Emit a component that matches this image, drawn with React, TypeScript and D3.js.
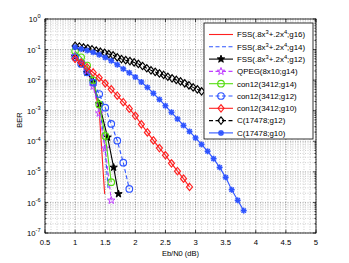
import React from "react";
import * as d3 from "d3";

// ---- data (Eb/N0 in dB, BER) ----
const fss16X = [1.0, 1.1, 1.2, 1.3, 1.4, 1.49];
const fss16Y = [0.063, 0.038, 0.018, 0.0079, 0.001, 1.9e-6];

const fss14X = [1.0, 1.1, 1.2, 1.3, 1.4, 1.5, 1.55];
const fss14Y = [0.071, 0.042, 0.021, 0.0079, 0.0018, 5.0e-5, 2.5e-6];

const fss12X = [1.0, 1.1, 1.2, 1.3, 1.4, 1.54, 1.64, 1.72];
const fss12Y = [0.059, 0.035, 0.0174, 0.0091, 0.00166, 1.35e-4, 1.4e-5, 1.9e-6];

const qpegX = [1.0, 1.1, 1.2, 1.3, 1.4, 1.5, 1.6];
const qpegY = [0.063, 0.04, 0.02, 0.0063, 8.3e-4, 5.9e-5, 1.17e-6];

const con14X = [1.0, 1.1, 1.2, 1.3, 1.4, 1.5, 1.6];
const con14Y = [0.089, 0.056, 0.03, 0.01, 0.0016, 1.5e-4, 4.6e-6];

const con12X = [1.0, 1.1, 1.2, 1.3, 1.4, 1.5, 1.6, 1.7, 1.8, 1.9];
const con12Y = [0.056, 0.034, 0.018, 0.0083, 0.0035, 0.00126, 3.7e-4, 1.05e-4, 2.0e-5, 2.75e-6];

const con10X = [1.0, 1.1, 1.2, 1.3, 1.4, 1.5, 1.6, 1.7, 1.8, 1.9, 2.0, 2.1, 2.2, 2.3, 2.4, 2.5, 2.6, 2.7, 2.8, 2.9];
const con10Y = [0.05, 0.037, 0.026, 0.0178, 0.012, 0.0079, 0.005, 0.0031, 0.0019, 0.00117, 6.8e-4, 3.6e-4, 1.95e-4, 1.07e-4, 6.0e-5, 3.5e-5, 1.9e-5, 1.05e-5, 6.0e-6, 3.2e-6];

const c12X = [1.0, 1.07, 1.14, 1.21, 1.28, 1.35, 1.42, 1.49, 1.56, 1.63, 1.7, 1.77, 1.84, 1.91, 1.98, 2.05, 2.12, 2.19, 2.26, 2.33, 2.4, 2.47, 2.54, 2.61, 2.68, 2.75, 2.82, 2.89, 2.96, 3.03, 3.1];
const c12Y = [0.132, 0.126, 0.117, 0.11, 0.102, 0.093, 0.085, 0.078, 0.071, 0.065, 0.056, 0.049, 0.045, 0.042, 0.038, 0.034, 0.029, 0.0245, 0.021, 0.0186, 0.0166, 0.0148, 0.0129, 0.0115, 0.0102, 0.0091, 0.0079, 0.0068, 0.0058, 0.005, 0.0043];

const c10X = [1.0, 1.1, 1.2, 1.3, 1.4, 1.5, 1.6, 1.7, 1.8, 1.9, 2.0, 2.1, 2.2, 2.3, 2.4, 2.5, 2.6, 2.7, 2.8, 2.9, 3.0, 3.1, 3.2, 3.3, 3.4, 3.5, 3.6, 3.7, 3.8];
const c10Y = [0.12, 0.105, 0.093, 0.081, 0.068, 0.055, 0.043, 0.032, 0.0234, 0.0174, 0.0126, 0.0087, 0.0058, 0.0037, 0.00234, 0.00145, 8.9e-4, 5.4e-4, 3.3e-4, 2.1e-4, 1.29e-4, 7.9e-5, 4.7e-5, 2.7e-5, 1.4e-5, 6.6e-6, 2.6e-6, 1.17e-6, 5.4e-7];

const xTicks = [0.5, 1, 1.5, 2, 2.5, 3, 3.5, 4, 4.5, 5];
const yExps = [0, -1, -2, -3, -4, -5, -6, -7];

type Marker = "none" | "circle" | "diamond" | "pent" | "aster";
interface Series {
  name: React.ReactNode;
  xs: number[];
  ys: number[];
  color: string;
  dash: string | null;
  marker: Marker;
  fill: boolean;
}

const RED = "#ff2020";
const BLUE = "#2f55ff";
const BLACK = "#000000";
const MAG = "#c040ff";
const GREEN = "#55dd11";

const sup = (s: string) => (
  <tspan baselineShift="super" fontSize="5.8">{s}</tspan>
);

const series: Series[] = [
  { name: <>FSS(.8x{sup("3")}+.2x{sup("4")};g16)</>, xs: fss16X, ys: fss16Y, color: RED, dash: null, marker: "none", fill: false },
  { name: <>FSS(.8x{sup("3")}+.2x{sup("4")};g14)</>, xs: fss14X, ys: fss14Y, color: BLUE, dash: "4,2.5", marker: "none", fill: false },
  { name: <>FSS(.8x{sup("3")}+.2x{sup("4")};g12)</>, xs: fss12X, ys: fss12Y, color: BLACK, dash: null, marker: "pent", fill: true },
  { name: "QPEG(8x10;g14)", xs: qpegX, ys: qpegY, color: MAG, dash: "4,2.5", marker: "pent", fill: false },
  { name: "con12(3412;g14)", xs: con14X, ys: con14Y, color: GREEN, dash: null, marker: "circle", fill: false },
  { name: "con12(3412;g12)", xs: con12X, ys: con12Y, color: BLUE, dash: "4,2.5", marker: "circle", fill: false },
  { name: "con12(3412;g10)", xs: con10X, ys: con10Y, color: RED, dash: null, marker: "diamond", fill: false },
  { name: "C(17478;g12)", xs: c12X, ys: c12Y, color: BLACK, dash: "4,2.5", marker: "diamond", fill: false },
  { name: "C(17478;g10)", xs: c10X, ys: c10Y, color: BLUE, dash: null, marker: "aster", fill: false },
];

const L = 45, R = 316, T = 19, B = 233;
const x = d3.scaleLinear().domain([0.5, 5]).range([L, R]);
const y = d3.scaleLog().domain([1e-7, 1]).range([B, T]);

function pentPath(r: number) {
  const pts: [number, number][] = [];
  for (let i = 0; i < 10; i++) {
    const rr = i % 2 === 0 ? r : r * 0.4;
    const a = -Math.PI / 2 + (i * Math.PI) / 5;
    pts.push([rr * Math.cos(a), rr * Math.sin(a)]);
  }
  return "M" + pts.map((p) => p[0].toFixed(2) + "," + p[1].toFixed(2)).join("L") + "Z";
}

function MarkerShape({ m, cx, cy, color, fill }: { m: Marker; cx: number; cy: number; color: string; fill: boolean }) {
  const f = fill ? color : "none";
  if (m === "circle") return <circle cx={cx} cy={cy} r={3.3} fill="none" stroke={color} strokeWidth={1.15} />;
  if (m === "diamond")
    return <path d={`M${cx},${cy - 3.7}L${cx + 3},${cy}L${cx},${cy + 3.7}L${cx - 3},${cy}Z`} fill="none" stroke={color} strokeWidth={1.15} />;
  if (m === "pent") return <path d={pentPath(3.9)} transform={`translate(${cx},${cy})`} fill={f} stroke={color} strokeWidth={1} />;
  if (m === "aster") {
    const r = 3, d = 2.2;
    return (
      <g stroke={color} strokeWidth={1.5}>
        <line x1={cx - r} y1={cy} x2={cx + r} y2={cy} />
        <line x1={cx} y1={cy - r} x2={cx} y2={cy + r} />
        <line x1={cx - d} y1={cy - d} x2={cx + d} y2={cy + d} />
        <line x1={cx - d} y1={cy + d} x2={cx + d} y2={cy - d} />
      </g>
    );
  }
  return null;
}

export default function App() {
  const line = d3.line<[number, number]>().x((d) => x(d[0])).y((d) => y(d[1]));
  const xMinor = d3.range(5, 51).map((v) => v / 10);
  const yMinor: number[] = [];
  for (let e = -7; e < 0; e++) for (let k = 2; k <= 9; k++) yMinor.push(k * Math.pow(10, e));
  const font = "'Liberation Sans', Arial, sans-serif";
  const gridC = "#b0b0b0";

  const lgX = 204, lgY = 23, lgW = 109, lgH = 116;
  const rowY = (i: number) => 34.5 + i * 12.3;

  return (
    <svg width={349} height={263} style={{ position: "absolute", left: 0, top: 0 }} fontFamily={font}>
      <rect x={0} y={0} width={349} height={263} fill="#fff" />
      <rect x={L} y={T} width={R - L} height={B - T} fill="#fff" />
      {/* grid */}
      <g stroke={gridC} strokeWidth={0.6} strokeDasharray="1,1.5">
        {xMinor.map((v, i) => (
          <line key={"gx" + i} x1={x(v)} x2={x(v)} y1={T} y2={B} />
        ))}
        {yMinor.map((v, i) => (
          <line key={"gy" + i} x1={L} x2={R} y1={y(v)} y2={y(v)} />
        ))}
      </g>
      <g stroke="#888" strokeWidth={0.7} strokeDasharray="1,1.5">
        {xTicks.map((v) => (
          <line key={"gxm" + v} x1={x(v)} x2={x(v)} y1={T} y2={B} />
        ))}
        {yExps.map((e) => (
          <line key={"gye" + e} x1={L} x2={R} y1={y(Math.pow(10, e))} y2={y(Math.pow(10, e))} />
        ))}
      </g>
      {/* series */}
      {series.map((s, si) => {
        const pts = s.xs.map((v, i) => [v, s.ys[i]] as [number, number]);
        return (
          <g key={"s" + si}>
            <path d={line(pts) || ""} fill="none" stroke={s.color} strokeWidth={1.1} strokeDasharray={s.dash || undefined} />
            {s.marker !== "none" &&
              pts.map((p, i) => <MarkerShape key={i} m={s.marker} cx={x(p[0])} cy={y(p[1])} color={s.color} fill={s.fill} />)}
          </g>
        );
      })}
      {/* axes box & ticks */}
      <rect x={L} y={T} width={R - L} height={B - T} fill="none" stroke="#000" strokeWidth={0.8} />
      <g stroke="#000" strokeWidth={0.7}>
        {xTicks.map((v) => (
          <g key={"xt" + v}>
            <line x1={x(v)} x2={x(v)} y1={B} y2={B - 3} />
            <line x1={x(v)} x2={x(v)} y1={T} y2={T + 3} />
          </g>
        ))}
        {yExps.map((e) => (
          <g key={"yt" + e}>
            <line x1={L} x2={L + 3} y1={y(Math.pow(10, e))} y2={y(Math.pow(10, e))} />
            <line x1={R} x2={R - 3} y1={y(Math.pow(10, e))} y2={y(Math.pow(10, e))} />
          </g>
        ))}
        {yMinor.map((v, i) => (
          <g key={"ym" + i}>
            <line x1={L} x2={L + 1.6} y1={y(v)} y2={y(v)} />
            <line x1={R} x2={R - 1.6} y1={y(v)} y2={y(v)} />
          </g>
        ))}
      </g>
      {/* tick labels */}
      <g fontSize={7.7} fill="#000">
        {xTicks.map((v) => (
          <text key={"xl" + v} x={x(v)} y={244.5} textAnchor="middle">
            {String(v)}
          </text>
        ))}
        {yExps.map((e) => (
          <text key={"yl" + e} x={40.5} y={y(Math.pow(10, e)) + 3.2} textAnchor="end">
            10<tspan dy={-3.8} fontSize={5.6}>{String(e)}</tspan>
          </text>
        ))}
      </g>
      <text x={(L + R) / 2} y={256} textAnchor="middle" fontSize={7.5}>
        Eb/N0 (dB)
      </text>
      <text transform="translate(21.5,120) rotate(-90)" textAnchor="middle" fontSize={7.5}>
        BER
      </text>
      {/* legend */}
      <rect x={lgX} y={lgY} width={lgW} height={lgH} fill="#fff" stroke="#000" strokeWidth={0.8} />
      {series.map((s, i) => {
        const yy = rowY(i);
        return (
          <g key={"lg" + i}>
            <line x1={209} x2={233} y1={yy} y2={yy} stroke={s.color} strokeWidth={1.1} strokeDasharray={s.dash || undefined} />
            {s.marker !== "none" && <MarkerShape m={s.marker} cx={221} cy={yy} color={s.color} fill={s.fill} />}
            <text x={237} y={yy + 2.8} fontSize={7.9}>
              {s.name}
            </text>
          </g>
        );
      })}
    </svg>
  );
}
